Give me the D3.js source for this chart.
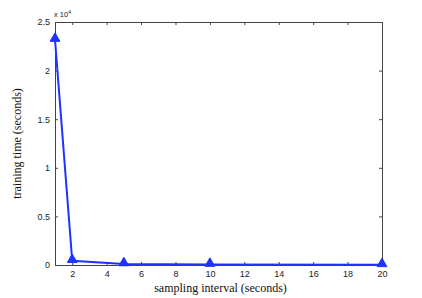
<!doctype html>
<html>
  <head>
    <meta charset="utf-8">
    <title>Training time</title>
    <script src="https://cdnjs.cloudflare.com/ajax/libs/d3/7.8.5/d3.min.js"></script>
    <style>
      body { margin: 0; background: #fff; }
      .tick text { font-family: "Liberation Sans", Arial, sans-serif; font-size: 9px; fill: #222; }
      .lbl { font-family: "Liberation Serif", "Times New Roman", serif; font-size: 12px; fill: #111; }
    </style>
  </head>
  <body>
    <div id="chart"></div>
    <script>
      // sampling interval (seconds)
      const intervals = [1, 2, 5, 10, 20];
      // training time (seconds)
      const trainTime = [23200, 440, 110, 50, 20];
      const xTicks = [2, 4, 6, 8, 10, 12, 14, 16, 18, 20];
      const yTicks = [0, 5000, 10000, 15000, 20000, 25000];

      const W = 422, H = 298;
      const m = {top: 22, right: 40, bottom: 33, left: 55};

      const svg = d3.select('#chart').append('svg')
        .attr('width', W).attr('height', H);

      const x = d3.scaleLinear().domain([1, 20]).range([m.left, W - m.right]);
      const y = d3.scaleLinear().domain([0, 25000]).range([H - m.bottom, m.top]);

      const axisColor = '#444';

      // bottom axis
      const gx = svg.append('g').attr('transform', `translate(0,${H - m.bottom})`)
        .call(d3.axisBottom(x).tickValues(xTicks).tickSizeInner(-3).tickSizeOuter(0).tickPadding(6));
      // top axis (ticks only)
      const gxt = svg.append('g').attr('transform', `translate(0,${m.top})`)
        .call(d3.axisTop(x).tickValues(xTicks).tickSizeInner(-3).tickSizeOuter(0).tickFormat(''));
      // left axis
      const gy = svg.append('g').attr('transform', `translate(${m.left},0)`)
        .call(d3.axisLeft(y).tickValues(yTicks).tickSizeInner(-3).tickSizeOuter(0).tickPadding(5)
          .tickFormat(d => d / 10000));
      // right axis (ticks only)
      const gyr = svg.append('g').attr('transform', `translate(${W - m.right},0)`)
        .call(d3.axisRight(y).tickValues(yTicks).tickSizeInner(-3).tickSizeOuter(0).tickFormat(''));

      [gx, gxt, gy, gyr].forEach(g => {
        g.selectAll('path').attr('stroke', axisColor).attr('stroke-width', 1);
        g.selectAll('line').attr('stroke', axisColor);
      });

      // exponent label
      svg.append('text')
        .attr('x', m.left - 1).attr('y', m.top - 5)
        .style('font-family', '"Liberation Sans", Arial, sans-serif')
        .style('font-size', '7.5px').style('fill', '#222')
        .text('x 10')
        .append('tspan').attr('dy', -3).style('font-size', '5px').text('4');

      // line
      const line = d3.line().x((d, i) => x(intervals[i])).y(d => y(d));
      svg.append('path')
        .datum(trainTime)
        .attr('d', line)
        .attr('fill', 'none')
        .attr('stroke', '#1f33ff')
        .attr('stroke-width', 2);

      // triangle markers
      const tri = d3.symbol().type(d3.symbolTriangle).size(42);
      svg.selectAll('.mk')
        .data(trainTime)
        .join('path')
        .attr('class', 'mk')
        .attr('d', tri)
        .attr('transform', (d, i) => `translate(${x(intervals[i])},${y(d) - 1})`)
        .attr('fill', '#1f33ff')
        .attr('stroke', '#1f33ff')
        .attr('stroke-width', 1);

      // axis labels
      svg.append('text').attr('class', 'lbl')
        .attr('x', (m.left + W - m.right) / 2 + 2).attr('y', H - 6)
        .attr('text-anchor', 'middle')
        .text('sampling interval (seconds)');

      svg.append('text').attr('class', 'lbl')
        .attr('transform', `translate(${21},${(m.top + H - m.bottom) / 2}) rotate(-90)`)
        .attr('text-anchor', 'middle')
        .text('training time (seconds)');
    </script>
  </body>
</html>
